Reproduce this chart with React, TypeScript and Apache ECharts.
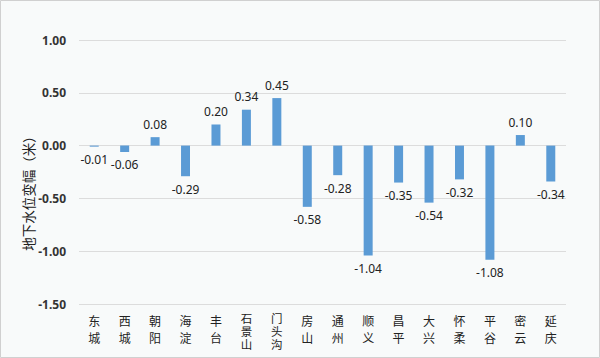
import React, { useEffect, useRef } from "react";
import * as echarts from "echarts";

const categories = ["东城", "西城", "朝阳", "海淀", "丰台", "石景山", "门头沟", "房山", "通州", "顺义", "昌平", "大兴", "怀柔", "平谷", "密云", "延庆"];
const values = [-0.01, -0.06, 0.08, -0.29, 0.2, 0.34, 0.45, -0.58, -0.28, -1.04, -0.35, -0.54, -0.32, -1.08, 0.1, -0.34];
const yAxisTitle = "地下水位变幅（米）";

export default function App() {
  const ref = useRef<HTMLDivElement>(null);
  useEffect(() => {
    document.body.style.margin = "0";
    const chart = echarts.init(ref.current!, null, { renderer: "svg" });
    chart.setOption({
      animation: false,
      backgroundColor: "#f8fafa",
      grid: { left: 79, right: 34, top: 40, bottom: 54 },
      xAxis: {
        type: "category",
        data: categories,
        axisLine: { show: false, onZero: false },
        axisTick: { show: false },
        axisLabel: {
          interval: 0,
          hideOverlap: false,
          verticalAlign: "top",
          margin: 8,
          formatter: (v: string) =>
            v.length > 2
              ? "{t|" + v.split("").join("\n") + "}"
              : "{d|" + v.split("").join("\n") + "}",
          rich: {
            d: { fontSize: 12, lineHeight: 17, color: "#222", fontFamily: "Noto Sans CJK SC" },
            t: { fontSize: 11.5, lineHeight: 12.7, color: "#222", fontFamily: "Noto Sans CJK SC" },
          },
        },
      },
      yAxis: {
        type: "value",
        min: -1.5,
        max: 1,
        interval: 0.5,
        axisLine: { show: false },
        axisTick: { show: false },
        axisLabel: {
          formatter: (v: number) => v.toFixed(2),
          color: "#333",
          fontWeight: "bold",
          fontSize: 12,
          margin: 13,
          fontFamily: "Noto Sans",
        },
        splitLine: { lineStyle: { color: "#dcdcdc", width: 1 } },
      },
      graphic: [
        {
          type: "text",
          x: 28,
          y: 190,
          rotation: Math.PI / 2,
          style: {
            text: yAxisTitle,
            fill: "#222",
            fontSize: 13.5,
            fontFamily: "Noto Sans CJK SC",
            align: "center",
            verticalAlign: "middle",
          },
        },
        {
          type: "rect",
          shape: { x: 0.5, y: 0.5, width: 599, height: 357 },
          style: { fill: "none", stroke: "#d0d0d0", lineWidth: 1 },
          silent: true,
        },
      ],
      series: [
        {
          type: "bar",
          data: values.map((v) => ({
            value: v,
            label: { position: v >= 0 ? "top" : "bottom" },
          })),
          barWidth: 9,
          itemStyle: { color: "#5b9bd5" },
          label: {
            show: true,
            formatter: (p: any) => p.value.toFixed(2),
            color: "#222",
            fontSize: 12,
            fontFamily: "Noto Sans",
            distance: 7,
          },
        },
      ],
    });
    return () => chart.dispose();
  }, []);
  return <div ref={ref} style={{ width: 600, height: 358 }} />;
}
